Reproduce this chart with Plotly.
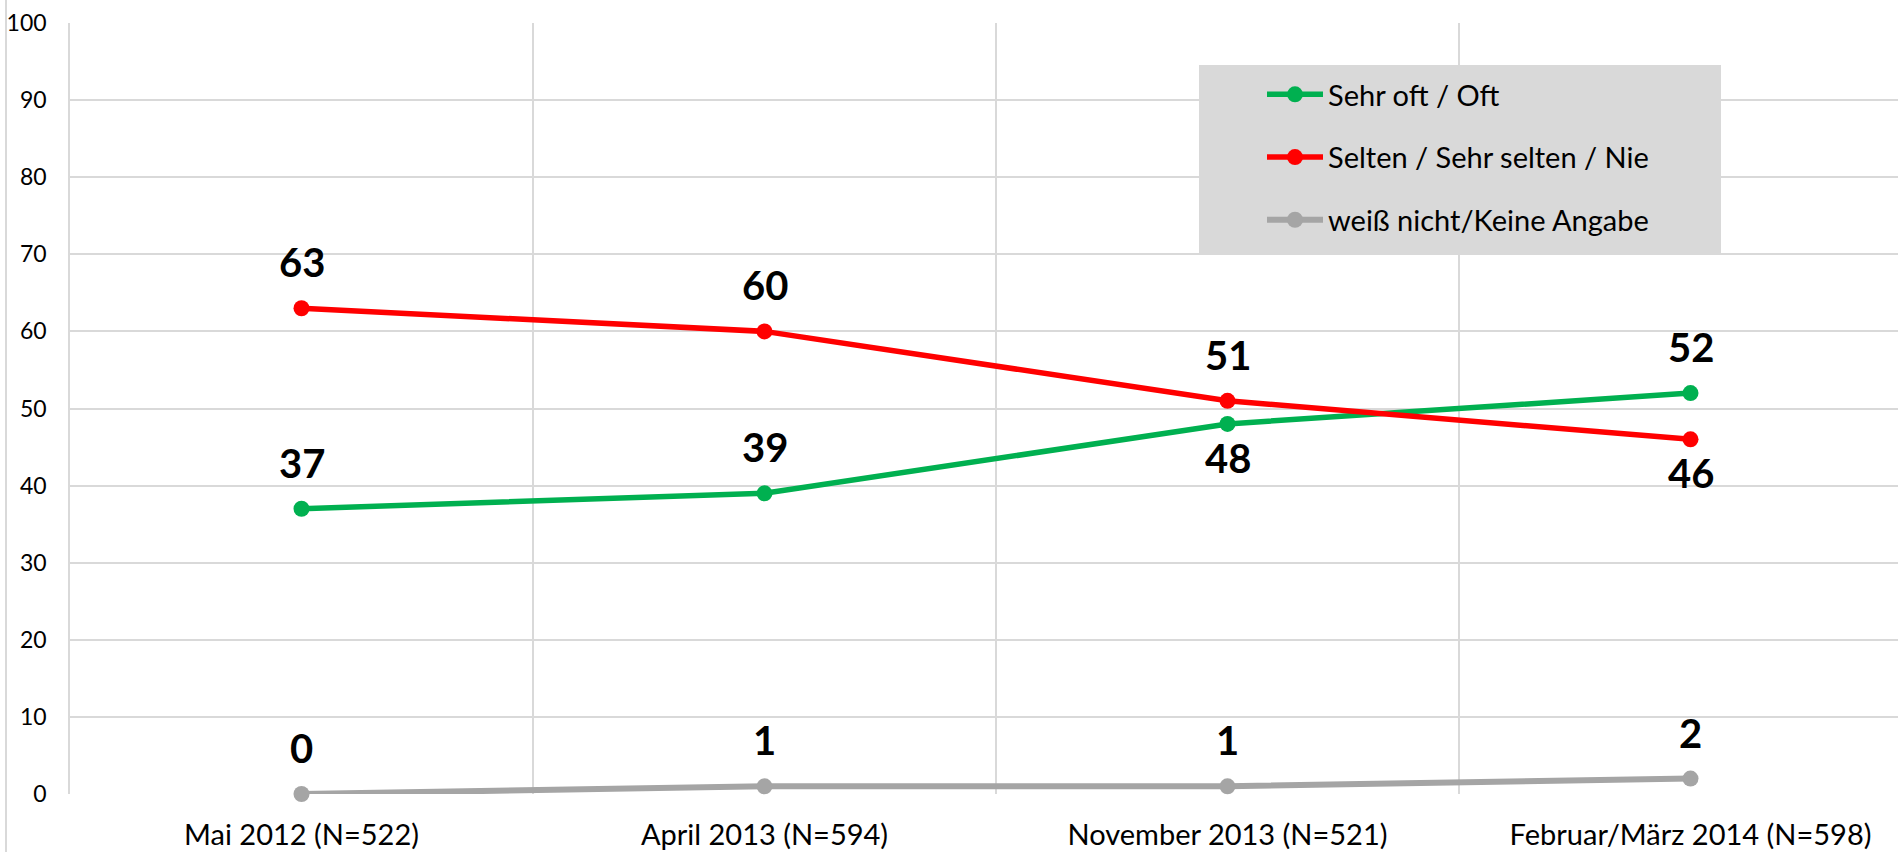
import plotly.graph_objects as go

categories = ["Mai 2012 (N=522)", "April 2013 (N=594)", "November 2013 (N=521)", "Februar/März 2014 (N=598)"]
series_names = ["Sehr oft / Oft", "Selten / Sehr selten / Nie", "weiß nicht/Keine Angabe"]
oft = [37, 39, 48, 52]
selten = [63, 60, 51, 46]
weiss_nicht = [0, 1, 1, 2]
# label placement: +1 above the point, -1 below
oft_label_side = [1, 1, -1, 1]
selten_label_side = [1, 1, 1, -1]
weiss_label_side = [1, 1, 1, 1]
y_ticks = list(range(0, 101, 10))

colors = ["#00B050", "#FF0000", "#A5A5A5"]
FONT = "Lato, 'Open Sans', sans-serif"
W, H = 1898, 852
ML, MR, MT, MB = 70, 0, 23, 58
PW, PH = W - ML - MR, H - MT - MB

def px_x(p):
    return (p - ML) / PW

def px_y(p):
    return (H - MB - p) / PH

xpos = list(range(len(categories)))
cat_px = 463.0
x_range = [-0.5, -0.5 + PW / cat_px]

fig = go.Figure()
all_series = [oft, selten, weiss_nicht]
all_sides = [oft_label_side, selten_label_side, weiss_label_side]
for i, (name, vals) in enumerate(zip(series_names, all_series)):
    fig.add_trace(go.Scatter(
        x=xpos, y=vals, name=name, mode="lines+markers",
        legendgroup=f"g{i}",
        line=dict(color=colors[i], width=6 if i == 2 else 5.5),
        marker=dict(color=colors[i], size=16),
        cliponaxis=False,
        hoverinfo="skip",
    ))

annotations = []
for vals, sides in zip(all_series, all_sides):
    for xv, yv, s in zip(xpos, vals, sides):
        annotations.append(dict(
            x=xv, y=yv, xref="x", yref="y", text=str(yv), showarrow=False,
            font=dict(family=FONT, size=40, color="#000000", weight="bold"),
            xanchor="center", yanchor="middle",
            yshift=46 if s > 0 else -34,
        ))

shapes = [
    # legend background box
    dict(type="rect", xref="paper", yref="paper",
         x0=px_x(1199), x1=px_x(1721), y0=px_y(254), y1=px_y(65),
         fillcolor="#D9D9D9", line=dict(width=0), layer="between"),
    # outer left border line
    dict(type="line", xref="paper", yref="paper",
         x0=px_x(6), x1=px_x(6), y0=px_y(H), y1=px_y(0),
         line=dict(color="#D9D9D9", width=2), layer="above"),
]

fig.update_layout(
    width=W, height=H,
    margin=dict(l=ML, r=MR, t=MT, b=MB, pad=0),
    paper_bgcolor="#FFFFFF", plot_bgcolor="#FFFFFF",
    font=dict(family=FONT, color="#000000"),
    showlegend=True,
    legend=dict(
        x=px_x(1262), y=px_y(69), xanchor="left", yanchor="top",
        bgcolor="rgba(0,0,0,0)", borderwidth=0,
        font=dict(family=FONT, size=29, color="#000000"),
        traceorder="grouped", tracegroupgap=22, itemwidth=56,
    ),
    xaxis=dict(
        range=x_range, tickmode="array", tickvals=xpos, ticktext=categories,
        showgrid=False, zeroline=False, showline=False,
        tickfont=dict(family=FONT, size=29, color="#000000"),
        ticks="", ticklabelstandoff=21,
        minor=dict(tickmode="array", tickvals=[0.5, 1.5, 2.5], showgrid=True,
                   gridcolor="#D9D9D9", gridwidth=1.5, ticks=""),
        fixedrange=True,
    ),
    yaxis=dict(
        range=[0, 100], tickmode="array", tickvals=y_ticks,
        showgrid=True, gridcolor="#D9D9D9", gridwidth=1.5,
        zeroline=False, showline=True, linecolor="#D9D9D9", linewidth=1.5,
        tickfont=dict(family=FONT, size=23, color="#000000"),
        ticks="", ticklabelstandoff=17,
        fixedrange=True,
    ),
    annotations=annotations,
    shapes=shapes,
)

fig.write_html(
    "out.html",
    config={"displayModeBar": False},
    post_script="document.body.style.margin='0';document.body.style.padding='0';",
)
